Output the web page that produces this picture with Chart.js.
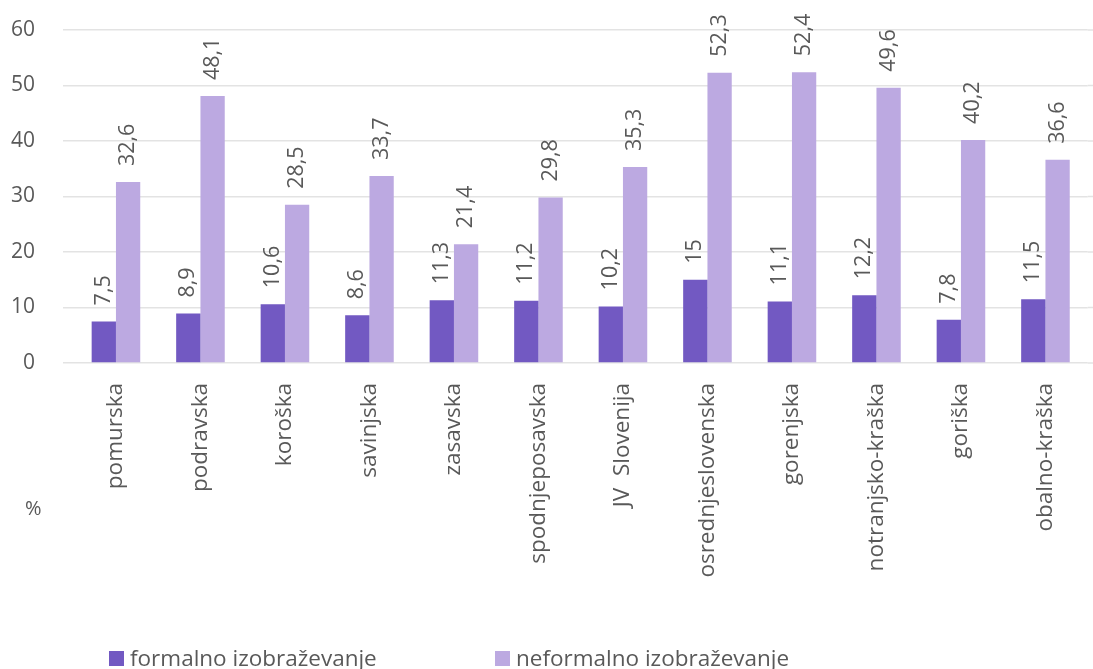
<!DOCTYPE html>
<html><head><meta charset="utf-8">
<script src="https://cdn.jsdelivr.net/npm/chart.js@4/dist/chart.umd.min.js"></script>
<style>html,body{margin:0;padding:0;background:#fff;}#wrap{width:1093px;height:669px;position:relative;}</style>
</head><body><div id="wrap"><canvas id="c" width="1093" height="669"></canvas></div>
<script>
const categories = ["pomurska","podravska","koroška","savinjska","zasavska","spodnjeposavska","JV  Slovenija","osrednjeslovenska","gorenjska","notranjsko-kraška","goriška","obalno-kraška"];
const formalno = [7.5, 8.9, 10.6, 8.6, 11.3, 11.2, 10.2, 15, 11.1, 12.2, 7.8, 11.5];
const neformalno = [32.6, 48.1, 28.5, 33.7, 21.4, 29.8, 35.3, 52.3, 52.4, 49.6, 40.2, 36.6];
const seriesNames = ["formalno izobraževanje", "neformalno izobraževanje"];
const yTicks = [0, 10, 20, 30, 40, 50, 60];
const unitLabel = "%";

const FONT = "'Open Sans', sans-serif";
const TXT = '#595959';
const GRID = '#e3e3e3';

const labelPlugin = {
  id: 'valueLabels',
  afterDatasetsDraw(chart) {
    const ctx = chart.ctx;
    ctx.save();
    ctx.font = '21.5px ' + FONT;
    ctx.fillStyle = TXT;
    chart.data.datasets.forEach((ds, i) => {
      const meta = chart.getDatasetMeta(i);
      meta.data.forEach((el, j) => {
        const txt = String(ds.data[j]).replace('.', ',');
        ctx.save();
        ctx.translate(el.x, el.y - 16);
        ctx.rotate(-Math.PI / 2);
        ctx.textAlign = 'left';
        ctx.textBaseline = 'middle';
        ctx.fillText(txt, 0, 0);
        ctx.restore();
      });
    });
    ctx.restore();
  }
};

const extraPlugin = {
  id: 'extras',
  beforeDatasetsDraw(chart) {
    const ctx = chart.ctx, y = chart.scales.y, a = chart.chartArea;
    ctx.save();
    ctx.strokeStyle = GRID; ctx.lineWidth = 1.5;
    y.ticks.forEach(t => {
      const py = y.getPixelForValue(t.value);
      ctx.beginPath(); ctx.moveTo(a.right, py); ctx.lineTo(chart.width, py); ctx.stroke();
    });
    ctx.restore();
  },
  afterDraw(chart) {
    const ctx = chart.ctx;
    ctx.save();
    ctx.fillStyle = TXT;
    ctx.font = '20px ' + FONT;
    ctx.textBaseline = 'alphabetic';
    ctx.textAlign = 'left';
    ctx.fillText(unitLabel, 25, 515);
    // legend
    const items = [{x: 109}, {x: 495}];
    chart.data.datasets.forEach((ds, i) => {
      const x = items[i].x;
      ctx.fillStyle = ds.backgroundColor;
      ctx.fillRect(x, 651, 15, 15);
      ctx.fillStyle = TXT;
      ctx.font = '22.5px ' + FONT;
      ctx.fillText(ds.label, x + 21, 666);
    });
    ctx.restore();
  }
};

new Chart(document.getElementById('c'), {
  type: 'bar',
  data: {
    labels: categories,
    datasets: [
      { label: seriesNames[0], data: formalno, backgroundColor: '#7259c2', borderWidth: 0 },
      { label: seriesNames[1], data: neformalno, backgroundColor: '#bca9e1', borderWidth: 0 }
    ]
  },
  options: {
    responsive: false,
    animation: false,
    devicePixelRatio: 1,
    layout: { padding: { left: 0, right: 5.3, top: 30, bottom: 0 } },
    plugins: { legend: { display: false }, tooltip: { enabled: false } },
    datasets: { bar: { categoryPercentage: 0.575, barPercentage: 1.0 } },
    scales: {
      x: {
        grid: { display: false, drawTicks: false },
        border: { display: false },
        ticks: { autoSkip: false, minRotation: 90, maxRotation: 90, padding: 20, color: TXT, font: { family: FONT, size: 22.5 } },
        afterFit(s) { s.height = 306; s.paddingLeft = 0; s.paddingRight = 0; }
      },
      y: {
        min: 0, max: 60,
        afterBuildTicks(s) { s.ticks = yTicks.map(v => ({ value: v })); },
        grid: { color: GRID, lineWidth: 1.5, drawTicks: true, tickLength: 10.7 },
        border: { display: false },
        ticks: { padding: 28, color: TXT, font: { family: FONT, size: 21 } },
        afterFit(s) { s.width = 73.7; s.paddingTop = 0; s.paddingBottom = 0; }
      }
    }
  },
  plugins: [labelPlugin, extraPlugin]
});
</script></body></html>
